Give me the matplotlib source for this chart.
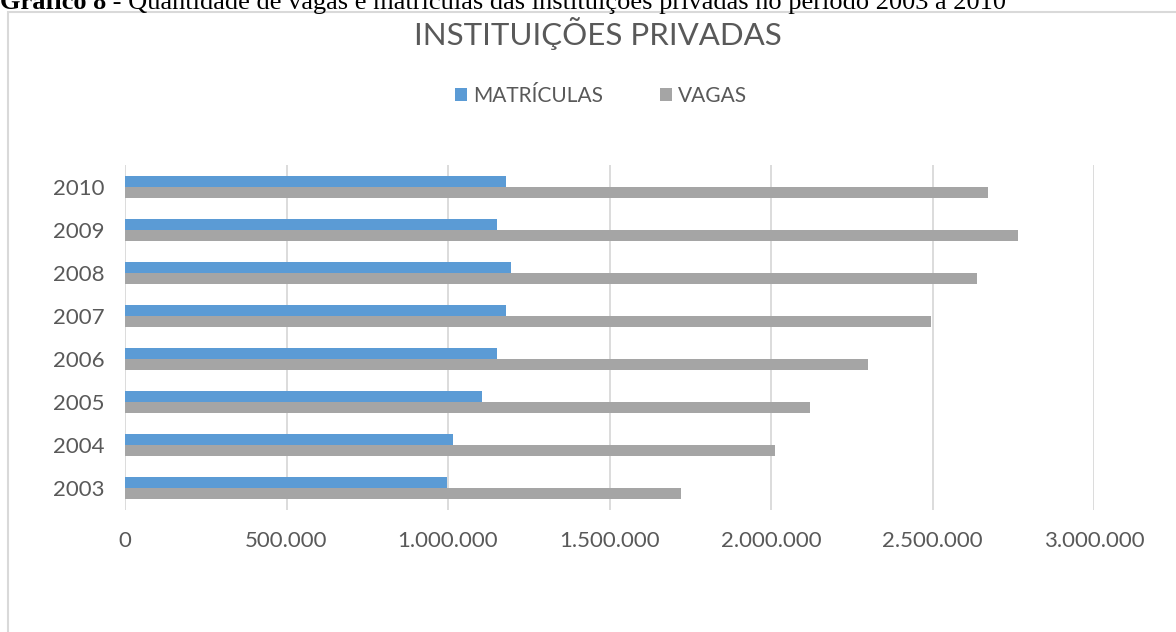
import matplotlib.pyplot as plt
from matplotlib.patches import Rectangle
from matplotlib.ticker import FuncFormatter
from matplotlib.transforms import offset_copy
import numpy as np

anos = ["2003", "2004", "2005", "2006", "2007", "2008", "2009", "2010"]
matriculas = [997000, 1017000, 1106000, 1151000, 1180000, 1196000, 1153000, 1180000]
vagas = [1720000, 2012000, 2122000, 2299000, 2494000, 2637000, 2766000, 2672000]

plt.rcParams['font.family'] = ['Lato', 'DejaVu Sans']
cor_texto = '#595959'

fig = plt.figure(figsize=(11.76, 6.32), dpi=100)
ax = fig.add_axes([125 / 1176, 1 - 510 / 632, (1094 - 125) / 1176, (510 - 165) / 632])

y = np.arange(len(anos))
h = 0.256
ax.barh(y + h / 2, matriculas, height=h, color='#5B9BD5', label='MATRÍCULAS', zorder=3)
ax.barh(y - h / 2, vagas, height=h, color='#A5A5A5', label='VAGAS', zorder=3)

ax.set_xlim(0, 3000000)
ax.set_ylim(-0.5, len(anos) - 0.5)
ax.set_xticks(np.arange(0, 3000001, 500000))
ax.xaxis.set_major_formatter(FuncFormatter(lambda v, p: "{:,.0f}".format(v).replace(",", ".")))
ax.set_yticks(y)
ax.set_yticklabels(anos)
ax.tick_params(length=0, labelsize=16, colors=cor_texto)
ax.tick_params(axis='x', pad=15)
ax.tick_params(axis='y', pad=15)
for s in ax.spines.values():
    s.set_visible(False)
ax.grid(axis='x', color='#d9d9d9', linewidth=1.3, zorder=0)

fig.text(598 / 1176, 1 - 33 / 632, "INSTITUIÇÕES PRIVADAS", ha='center', va='center',
         fontsize=22.5, color=cor_texto)
fig.legend(loc='center', bbox_to_anchor=(601 / 1176, 1 - 96 / 632), ncol=2, frameon=False,
           fontsize=15, labelcolor=cor_texto, handlelength=0.6, handleheight=0.6,
           columnspacing=2.7, handletextpad=0.3)

# moldura do grafico
fig.patches.append(Rectangle((8 / 1176, -0.2), 1.2, 1.2 - 12 / 632, transform=fig.transFigure,
                             fill=False, edgecolor='#d9d9d9', linewidth=1.5))

# legenda do documento (cortada no topo, como na imagem original)
t1 = fig.text(0.0, 1 - 9 / 632, "Gráfico 8", va='baseline', fontsize=19,
              family='Liberation Serif', weight='bold')
fig.canvas.draw()
w = t1.get_window_extent().width
fig.text(0.0, 1 - 9 / 632, " - Quantidade de vagas e matrículas das instituições privadas no período 2003 a 2010",
         va='baseline', fontsize=19, family='Liberation Serif',
         transform=offset_copy(fig.transFigure, fig=fig, x=w, y=0, units='dots'))

plt.savefig("out.png", dpi=100)
